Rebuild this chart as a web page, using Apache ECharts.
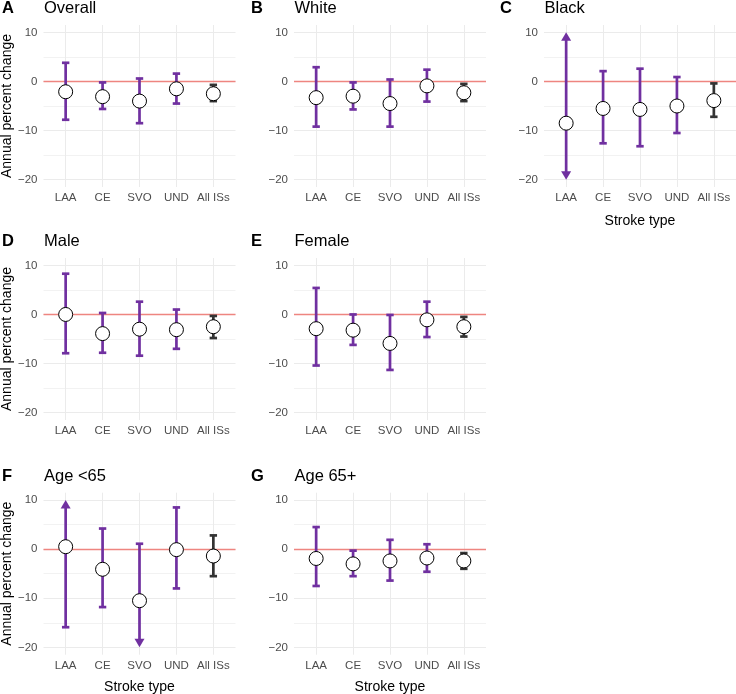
<!DOCTYPE html>
<html>
<head>
<meta charset="utf-8">
<script src="https://cdn.jsdelivr.net/npm/echarts@6/dist/echarts.min.js"></script>
<style>
html,body{margin:0;padding:0;background:#fff;}
#chart{width:736px;height:694px;}
</style>
</head>
<body>
<div id="chart"></div>
<script>
// ---------- data ----------
const categories = ['LAA', 'CE', 'SVO', 'UND', 'All ISs'];
const categoryPos = [1, 2, 3, 4, 5];
const yTickLabels = [-20, -10, 0, 10];
const yGridValues = [-20, -15, -10, -5, 0, 5, 10];
const panelLetters = ['A', 'B', 'C', 'D', 'E', 'F', 'G'];
const panelTitles = ['Overall', 'White', 'Black', 'Male', 'Female', 'Age <65', 'Age 65+'];
const xAxisTitle = 'Stroke type';
const yAxisTitle = 'Annual percent change';

const overallEst = [-2.1, -3.1, -4.0, -1.5, -2.5];
const overallLo  = [-7.8, -5.6, -8.5, -4.5, -4.0];
const overallHi  = [3.8, -0.2, 0.6, 1.6, -0.7];

const whiteEst = [-3.3, -3.0, -4.5, -0.9, -2.3];
const whiteLo  = [-9.2, -5.7, -9.2, -4.1, -4.0];
const whiteHi  = [2.9, -0.2, 0.4, 2.4, -0.5];

const blackEst = [-8.5, -5.5, -5.7, -5.0, -3.9];
const blackLo  = [-20, -12.6, -13.2, -10.5, -7.2];
const blackHi  = [10, 2.1, 2.6, 0.9, -0.4];
const blackArrowLo = [1, 0, 0, 0, 0];
const blackArrowHi = [1, 0, 0, 0, 0];

const maleEst = [0.0, -3.9, -3.0, -3.1, -2.5];
const maleLo  = [-7.9, -7.8, -8.4, -7.0, -4.8];
const maleHi  = [8.3, 0.3, 2.6, 1.0, -0.3];

const femaleEst = [-2.9, -3.2, -5.9, -1.1, -2.5];
const femaleLo  = [-10.4, -6.2, -11.3, -4.6, -4.5];
const femaleHi  = [5.4, 0.0, -0.1, 2.6, -0.5];

const under65Est = [0.5, -4.1, -10.5, -0.1, -1.4];
const under65Lo  = [-15.9, -11.8, -20, -8.0, -5.5];
const under65Hi  = [10, 4.2, 1.1, 8.5, 2.8];
const under65ArrowLo = [0, 0, 1, 0, 0];
const under65ArrowHi = [1, 0, 0, 0, 0];

const over65Est = [-1.9, -3.0, -2.4, -1.8, -2.4];
const over65Lo  = [-7.5, -5.5, -6.4, -4.6, -4.0];
const over65Hi  = [4.5, -0.3, 1.9, 1.0, -0.8];

const noArrows = [0, 0, 0, 0, 0];

const panels = [
  {est: overallEst, lo: overallLo, hi: overallHi, aLo: noArrows, aHi: noArrows},
  {est: whiteEst, lo: whiteLo, hi: whiteHi, aLo: noArrows, aHi: noArrows},
  {est: blackEst, lo: blackLo, hi: blackHi, aLo: blackArrowLo, aHi: blackArrowHi},
  {est: maleEst, lo: maleLo, hi: maleHi, aLo: noArrows, aHi: noArrows},
  {est: femaleEst, lo: femaleLo, hi: femaleHi, aLo: noArrows, aHi: noArrows},
  {est: under65Est, lo: under65Lo, hi: under65Hi, aLo: under65ArrowLo, aHi: under65ArrowHi},
  {est: over65Est, lo: over65Lo, hi: over65Hi, aLo: noArrows, aHi: noArrows}
];

// ---------- layout ----------
const colLeft = [43.5, 294, 544];
const rowTop = [25, 258, 492.7];
const panelW = 192, panelH = 162;
const panelCell = [[0,0],[1,0],[2,0],[0,1],[1,1],[0,2],[1,2]]; // [col,row]
const showXTitle = [false, false, true, false, false, true, true];
const FONT = 'Liberation Sans, Arial, Helvetica, sans-serif';
const PURPLE = '#7030A0';
const DARK = '#333333';
const GRID_MAJOR = '#EBEBEB';
const GRID_MINOR = '#F2F2F2';

function renderBar(params, api) {
  const x = api.value(0), lo = api.value(1), hi = api.value(2);
  const aLo = api.value(3), aHi = api.value(4);
  const pLo = api.coord([x, lo]);
  const pHi = api.coord([x, hi]);
  const cat = categories[Math.round(x) - 1];
  const color = cat === 'All ISs' ? DARK : PURPLE;
  const lw = 2.7, cap = 3.7, aw = 5, al = 8.5;
  const cx = pLo[0];
  const y1 = aLo ? pLo[1] - al * 0.6 : pLo[1];
  const y2 = aHi ? pHi[1] + al * 0.6 : pHi[1];
  const children = [{
    type: 'line',
    shape: {x1: cx, y1: y1, x2: cx, y2: y2},
    style: {stroke: color, lineWidth: lw}
  }];
  if (aLo) {
    children.push({type: 'polygon', shape: {points: [[cx - aw, pLo[1] - al], [cx + aw, pLo[1] - al], [cx, pLo[1]]]}, style: {fill: color}});
  } else {
    children.push({type: 'line', shape: {x1: cx - cap, y1: pLo[1], x2: cx + cap, y2: pLo[1]}, style: {stroke: color, lineWidth: lw}});
  }
  if (aHi) {
    children.push({type: 'polygon', shape: {points: [[cx - aw, pHi[1] + al], [cx + aw, pHi[1] + al], [cx, pHi[1]]]}, style: {fill: color}});
  } else {
    children.push({type: 'line', shape: {x1: cx - cap, y1: pHi[1], x2: cx + cap, y2: pHi[1]}, style: {stroke: color, lineWidth: lw}});
  }
  return {type: 'group', children: children};
}

const grids = [], xAxes = [], yAxes = [], series = [], graphics = [];

panels.forEach((p, i) => {
  const [c, r] = panelCell[i];
  const left = colLeft[c], top = rowTop[r];
  grids.push({left: left, top: top, width: panelW, height: panelH, containLabel: false, outerBoundsMode: 'none'});
  xAxes.push({
    type: 'value', gridIndex: i, min: 0.4, max: 5.6,
    axisLine: {show: false},
    axisTick: {show: false, customValues: categoryPos},
    axisLabel: {
      customValues: categoryPos,
      formatter: v => categories[Math.round(v) - 1] || '',
      color: '#4D4D4D', fontSize: 11.5, margin: 5, fontFamily: FONT
    },
    splitLine: {show: true, lineStyle: {color: GRID_MAJOR, width: 1}},
    name: showXTitle[i] ? xAxisTitle : '',
    nameLocation: 'middle',
    nameGap: r === 0 ? 27 : 25,
    nameTextStyle: {color: '#000', fontSize: 14, fontFamily: FONT}
  });
  yAxes.push({
    type: 'value', gridIndex: i, min: -21.5, max: 11.5,
    axisLine: {show: false},
    axisTick: {show: false, customValues: yGridValues},
    axisLabel: {customValues: yTickLabels, color: '#4D4D4D', fontSize: 11.5, margin: 6, fontFamily: FONT,
      formatter: v => (v < 0 ? '\u2212' + Math.abs(v) : String(v))},
    splitLine: {show: true, lineStyle: {color: [GRID_MAJOR, GRID_MINOR, GRID_MAJOR, GRID_MINOR, GRID_MAJOR, GRID_MINOR, GRID_MAJOR], width: 1}},
    name: c === 0 ? yAxisTitle : '',
    nameLocation: 'middle',
    nameGap: 29,
    nameRotate: 90,
    nameTextStyle: {color: '#000', fontSize: 14, fontFamily: FONT}
  });
  const barData = categoryPos.map((x, k) => [x, p.lo[k], p.hi[k], p.aLo[k], p.aHi[k]]);
  series.push({
    type: 'custom', xAxisIndex: i, yAxisIndex: i, z: 3, silent: true, clip: false,
    renderItem: renderBar,
    encode: {x: 0, y: [1, 2]},
    data: barData,
    markLine: {
      silent: true, symbol: 'none', z: 2,
      label: {show: false},
      lineStyle: {color: '#EE8580', width: 1.3, type: 'solid'},
      data: [{yAxis: 0}]
    }
  });
  series.push({
    type: 'scatter', xAxisIndex: i, yAxisIndex: i, z: 5, silent: true,
    symbol: 'circle', symbolSize: 14,
    itemStyle: {color: '#FFFFFF', borderColor: '#000000', borderWidth: 1, opacity: 1},
    data: categoryPos.map((x, k) => [x, p.est[k]])
  });
  const letterX = [2, 251, 500][c];
  graphics.push({type: 'text', x: letterX, y: top - 16.5, style: {text: panelLetters[i], font: 'bold 16.5px ' + FONT, fill: '#000', verticalAlign: 'middle', align: 'left'}});
  graphics.push({type: 'text', x: left + 0.5, y: top - 16.5, style: {text: panelTitles[i], font: '16.5px ' + FONT, fill: '#000', verticalAlign: 'middle', align: 'left'}});
});

const chart = echarts.init(document.getElementById('chart'), null, {renderer: 'canvas'});
chart.setOption({
  animation: false,
  backgroundColor: '#FFFFFF',
  textStyle: {fontFamily: FONT},
  grid: grids,
  xAxis: xAxes,
  yAxis: yAxes,
  series: series,
  graphic: graphics
});
</script>
</body>
</html>
